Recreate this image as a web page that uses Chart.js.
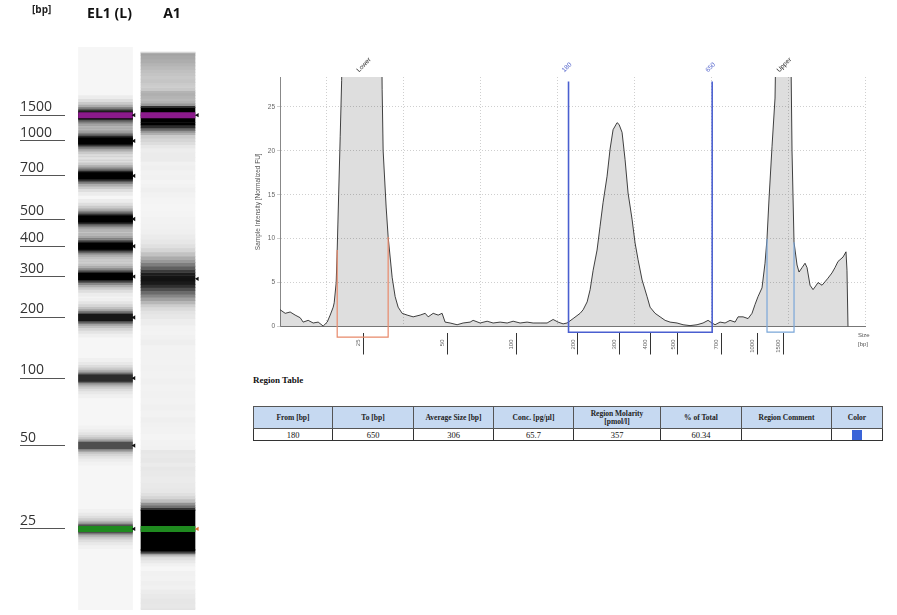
<!DOCTYPE html>
<html>
<head>
<meta charset="utf-8">
<script src="https://cdn.jsdelivr.net/npm/chart.js@4.4.0/dist/chart.umd.min.js"></script>
<style>
  body { margin: 0; background: #fff; width: 897px; height: 615px; position: relative; overflow: hidden; font-family: "Open Sans", sans-serif; }
  #gelWrap { position: absolute; left: 0; top: 0; width: 215px; height: 615px; }
  #epgWrap { position: absolute; left: 250px; top: 40px; width: 625px; height: 330px; }
  #bpUnit { position: absolute; left: 32px; top: 2px; font-size: 10px; font-weight: bold; color: #222; }
  #sizeLbl { position: absolute; left: 858px; top: 331px; font: 6px "Liberation Sans", sans-serif; color: #555; line-height: 9px; }
  #regTitle { position: absolute; left: 253px; top: 375px; font: bold 9px "Liberation Serif", serif; color: #111; }
  #regTable { position: absolute; left: 253px; top: 406px; border-collapse: collapse; font-family: "Liberation Serif", serif; table-layout: fixed; }
  #regTable th { background: #c6d9f1; font-size: 7.5px; font-weight: bold; height: 21px; padding: 0 7px; border: 1px solid #555; color: #222; line-height: 8px; }
  #regTable td { font-size: 8.5px; height: 11px; padding: 0; border: 1px solid #333; text-align: center; color: #111; line-height: 10px; }
  #regTable { border: 1.5px solid #222; }
  .swatch { display: inline-block; width: 10px; height: 10px; background: #3a64d8; vertical-align: middle; }
</style>
</head>
<body>
<div id="gelWrap"><canvas id="gel"></canvas></div>
<div id="bpUnit">[bp]</div>
<div id="epgWrap"><canvas id="epg"></canvas></div>
<div id="sizeLbl">Size<br>[bp]</div>
<div id="regTitle">Region Table</div>
<table id="regTable"></table>
<script>
// ladder (bp) and where each band runs, in migration units
var laneNames = ['EL1 (L)', 'A1'];
var ladderBp = [25, 50, 100, 200, 300, 400, 500, 700, 1000, 1500];
var ladderPos = [14.8, 25.8, 34.7, 42.7, 48.1, 52.1, 55.7, 61.4, 66.0, 69.4];
var ladderDensity = [0.5, 0.4, 0.55, 0.7, 1, 1, 1, 1, 1, 1];

// sample A1 trace: migration position vs intensity [FU]
var migration = [
  4.03, 4.68, 5.32, 5.97, 6.62, 7.01, 7.66, 8.31, 8.96, 9.61,
  10.13, 10.52, 10.91, 11.04, 11.30, 11.43, 11.62, 11.82, 12.01, 12.21,
  17.14, 17.27, 17.40, 17.79, 18.05, 18.57, 18.96, 19.35, 19.87, 20.52,
  21.30, 22.21, 22.86, 23.25, 23.90, 24.55, 25.06, 25.45, 26.10, 27.01,
  27.79, 28.70, 29.09, 30.00, 30.91, 31.69, 32.60, 33.51, 34.29, 35.19,
  36.10, 36.88, 37.79, 38.70, 39.48, 40.13, 40.78, 41.30, 42.08, 42.99,
  43.38, 43.90, 44.29, 44.68, 45.19, 45.58, 45.97, 46.49, 46.88, 47.27,
  47.79, 48.05, 48.44, 48.83, 49.22, 49.74, 50.13, 50.52, 51.04, 51.69,
  52.08, 52.73, 53.38, 54.03, 54.68, 55.58, 56.36, 57.27, 58.18, 58.96,
  59.61, 60.13, 60.52, 61.17, 61.82, 62.47, 63.12, 63.51, 64.16, 64.81,
  65.32, 65.71, 66.10, 66.62, 67.01, 67.27, 67.53, 67.92, 68.31, 68.57,
  70.26, 70.52, 70.78, 71.17, 71.43, 71.82, 72.21, 72.47, 72.86, 73.25,
  73.51, 73.90, 74.42, 74.81, 75.19, 75.71, 76.10, 76.49, 77.14, 77.53,
  77.66, 77.79
];
var intensity = [
  1.9, 1.5, 1.65, 1.3, 1.0, 0.5, 0.7, 0.4, 0.5, 0.05,
  0.5, 1.3, 2.2, 2.7, 5.0, 8.7, 15, 21.6, 28, 40,
  40, 27, 20, 13.6, 10.2, 5.6, 3.4, 2.2, 1.5, 1.3,
  1.1, 1.3, 1.5, 1.1, 1.5, 1.3, 1.5, 0.5, 0.4, 0.2,
  0.4, 0.5, 0.7, 0.4, 0.6, 0.4, 0.5, 0.4, 0.6, 0.4,
  0.5, 0.4, 0.4, 0.4, 0.8, 0.5, 0.3, 0.4, 0.9, 1.5,
  1.9, 2.8, 4.2, 6.4, 8.7, 11.4, 14.1, 17.1, 20.2, 22.4,
  23.2, 23.0, 22.1, 19.0, 15.2, 12.2, 9.5, 7.6, 5.3, 3.4,
  2.2, 1.5, 1.1, 0.7, 0.5, 0.4, 0.2, 0.1, 0.2, 0.4,
  0.7, 0.4, 0.2, 0.5, 0.4, 0.7, 0.5, 1.1, 1.1, 0.9,
  1.5, 2.5, 3.4, 4.4, 7.2, 10, 14.5, 20.5, 26, 40,
  40, 20, 9.6, 7.0, 6.2, 6.7, 7.2, 6.7, 4.7, 4.2,
  4.5, 5.0, 4.7, 5.1, 5.5, 6.1, 6.7, 7.4, 7.9, 8.5,
  6.4, 0
];
var samplePeaks = [14.8, 47.8, 69.4];
var lowerMarkerRange = [11.43, 18.05];
var upperMarkerRange = [67.27, 70.78];
var regionFrom = 180;
var regionTo = 650;
var topLabels = ['Lower', String(regionFrom), String(regionTo), 'Upper'];

var tableHead = ['From [bp]', 'To [bp]', 'Average Size [bp]', 'Conc. [pg/\u00b5l]', 'Region Molarity [pmol/l]', '% of Total', 'Region Comment', 'Color'];
var tableRow = ['180', '650', '306', '65.7', '357', '60.34', '', ''];
var colWidths = [79, 81, 80, 80, 87, 81, 90, 51];

function bpToPos(bp) {
  for (var i = 0; i < ladderBp.length - 1; i++) {
    if (bp <= ladderBp[i + 1]) {
      var t = Math.log(bp / ladderBp[i]) / Math.log(ladderBp[i + 1] / ladderBp[i]);
      return ladderPos[i] + t * (ladderPos[i + 1] - ladderPos[i]);
    }
  }
  return ladderPos[ladderPos.length - 1];
}
function valueAt(pos) {
  for (var i = 0; i < migration.length - 1; i++) {
    if (pos <= migration[i + 1]) {
      var t = (pos - migration[i]) / (migration[i + 1] - migration[i]);
      return intensity[i] + t * (intensity[i + 1] - intensity[i]);
    }
  }
  return 0;
}

// ---------- virtual gel ----------
var gelMin = 4.1, gelMax = 78.4;
var a1Bars = [];
for (var i = 0; i < migration.length; i++) {
  var lo = i === 0 ? migration[0] : (migration[i - 1] + migration[i]) / 2;
  var hi = i === migration.length - 1 ? migration[i] : (migration[i] + migration[i + 1]) / 2;
  a1Bars.push({ x: 2, y: [lo, hi], v: intensity[i] });
}
function grayFor(v) {
  var g = Math.round(246 * (1 - Math.min(1, v / 25)));
  return 'rgb(' + g + ',' + g + ',' + g + ')';
}
// soft edges for the ladder bands, widest/faintest first
var halo = [
  { h: 2.6, a: 0.04 }, { h: 2.1, a: 0.06 }, { h: 1.7, a: 0.09 }, { h: 1.35, a: 0.14 },
  { h: 1.05, a: 0.22 }, { h: 0.8, a: 0.35 }, { h: 0.6, a: 0.55 }, { h: 0.42, a: 1 }
];
// listed bottom layer first; chart.js paints dataset 0 on top, so the list is reversed below
var gelSets = [
  { type: 'bar', data: [{ x: 1, y: [gelMin, gelMax] }], backgroundColor: '#f6f6f6' },
  { type: 'bar', data: a1Bars, backgroundColor: function(c) { return grayFor(c.raw ? c.raw.v : 0); } }
];
halo.forEach(function(l) {
  gelSets.push({
    type: 'bar',
    data: ladderPos.map(function(p, k) { return { x: 1, y: [p - l.h, p + l.h], d: ladderDensity[k] }; }),
    backgroundColor: function(c) { return 'rgba(0,0,0,' + (l.a * (c.raw ? c.raw.d : 1)) + ')'; }
  });
});
var upperP = ladderPos[ladderPos.length - 1], lowerP = ladderPos[0];
gelSets.push({ type: 'bar', data: [{ x: 1, y: [upperP - 0.35, upperP + 0.35] }, { x: 2, y: [upperP - 0.35, upperP + 0.35] }], backgroundColor: '#8b1a8b' });
gelSets.push({ type: 'bar', data: [{ x: 1, y: [lowerP - 0.35, lowerP + 0.35] }, { x: 2, y: [lowerP - 0.35, lowerP + 0.35] }], backgroundColor: '#1f8a1f' });
gelSets.push({ type: 'scatter', data: ladderPos.map(function(p) { return { x: 1.456, y: p }; }),
  pointStyle: 'triangle', rotation: -90, pointRadius: 2.5, backgroundColor: '#111', borderWidth: 0 });
gelSets.push({ type: 'scatter', data: samplePeaks.map(function(p) { return { x: 2.47, y: p }; }),
  pointStyle: 'triangle', rotation: -90, pointRadius: 2.5, borderWidth: 0,
  backgroundColor: samplePeaks.map(function(p) { return p === lowerP ? '#e07030' : '#111'; }) });
gelSets.reverse();

new Chart(document.getElementById('gel'), {
  type: 'bar',
  data: { datasets: gelSets },
  options: {
    responsive: true, maintainAspectRatio: false, animation: false, events: [],
    layout: { padding: { left: 20, right: 10, top: 0, bottom: 5 } },
    plugins: { legend: { display: false }, tooltip: { enabled: false } },
    datasets: { bar: { grouped: false, barThickness: 54, borderWidth: 0, borderSkipped: false } },
    scales: {
      x: {
        type: 'linear', position: 'top', min: 0.352, max: 2.592, offset: false,
        grid: { display: false, drawTicks: false, offset: false }, border: { display: false },
        afterBuildTicks: function(s) { s.ticks = [{ value: 1 }, { value: 2 }]; },
        afterFit: function(s) { s.height = 47; s.paddingLeft = 0; s.paddingRight = 0; },
        ticks: { callback: function(v, i) { return laneNames[i]; }, padding: 25, labelOffset: 4,
          color: '#111', font: { family: 'Open Sans', size: 14, weight: 'bold' } }
      },
      y: {
        type: 'linear', min: gelMin, max: gelMax,
        afterBuildTicks: function(s) { s.ticks = ladderPos.map(function(v) { return { value: v }; }); },
        afterFit: function(s) { s.width = 45; s.paddingTop = 0; s.paddingBottom = 0; },
        ticks: { callback: function(v, i) { return String(ladderBp[i]); }, autoSkip: false,
          crossAlign: 'far', labelOffset: -8, padding: 0, color: '#333',
          font: { family: 'Open Sans', size: 14 } },
        grid: { drawOnChartArea: false, drawTicks: true, tickLength: 45, color: '#555', lineWidth: 1 },
        border: { display: false }
      }
    }
  }
});

// ---------- electropherogram ----------
var regA = bpToPos(regionFrom), regB = bpToPos(regionTo);
var regionTop = 27.9;
function boxPoints(r, bottom) {
  return [ { x: r[0], y: valueAt(r[0]) }, { x: r[0], y: bottom }, { x: r[1], y: bottom }, { x: r[1], y: valueAt(r[1]) } ];
}
var epgSets = [
  { data: [ { x: regA, y: regionTop }, { x: regA, y: -0.65 }, { x: regB, y: -0.65 }, { x: regB, y: regionTop } ],
    borderColor: '#4a5fd0', borderWidth: 1.6, pointRadius: 0, fill: false, clip: false },
  { data: boxPoints(lowerMarkerRange, -1.2), borderColor: '#e8896a', borderWidth: 1.2, pointRadius: 0, fill: false, clip: false },
  { data: boxPoints(upperMarkerRange, -0.65), borderColor: '#7aa6d8', borderWidth: 1.2, pointRadius: 0, fill: false, clip: false },
  { data: migration.map(function(x, k) { return { x: x, y: intensity[k] }; }),
    borderColor: '#111', borderWidth: 0.8, backgroundColor: 'rgba(0,0,0,0.13)', fill: 'origin',
    pointRadius: 0, tension: 0 }
];
var topPos = [ladderPos[0], regA, regB, ladderPos[ladderPos.length - 1]];
var smallFont = { family: 'Liberation Sans', size: 6.5 };

new Chart(document.getElementById('epg'), {
  type: 'line',
  data: { datasets: epgSets },
  options: {
    responsive: true, maintainAspectRatio: false, animation: false, events: [],
    layout: { padding: { left: 0, right: 10, top: 0, bottom: 0 } },
    plugins: { legend: { display: false }, tooltip: { enabled: false } },
    scales: {
      x: {
        type: 'linear', position: 'bottom', min: 4, max: 80,
        ticks: { display: false, stepSize: 10, includeBounds: false },
        grid: { color: '#cfcfcf', drawTicks: false },
        border: { display: true, color: '#777', dash: [1, 2] },
        afterFit: function(s) { s.height = 6; s.paddingLeft = 0; s.paddingRight = 0; }
      },
      x2: {
        type: 'linear', position: 'bottom', min: 4, max: 80,
        afterBuildTicks: function(s) { s.ticks = ladderPos.map(function(v) { return { value: v }; }); },
        afterFit: function(s) { s.height = 37.5; s.paddingLeft = 0; s.paddingRight = 0; },
        ticks: { callback: function(v, i) { return String(ladderBp[i]); }, autoSkip: false,
          minRotation: 90, maxRotation: 90, labelOffset: -5, padding: -15, color: '#666', font: { family: 'Liberation Sans', size: 6 } },
        grid: { drawOnChartArea: false, drawTicks: true, tickLength: 22, color: '#333' },
        border: { display: false }
      },
      x3: {
        type: 'linear', position: 'top', min: 4, max: 80,
        afterBuildTicks: function(s) { s.ticks = topPos.map(function(v) { return { value: v }; }); },
        afterFit: function(s) { s.height = 37; s.paddingLeft = 0; s.paddingRight = 0; },
        ticks: { callback: function(v, i) { return topLabels[i]; }, autoSkip: false,
          minRotation: 45, maxRotation: 45, padding: 3, font: smallFont,
          color: function(c) { return (c.index === 1 || c.index === 2) ? '#5566cc' : '#222'; } },
        grid: { display: false, drawTicks: false },
        border: { display: false }
      },
      y: {
        type: 'linear', min: 0, max: 28.4,
        ticks: { stepSize: 5, includeBounds: false, color: '#666', padding: 2, font: smallFont },
        grid: { color: '#cfcfcf', tickLength: 3 },
        border: { display: true, color: '#888', dash: [1, 2] },
        title: { display: true, text: 'Sample Intensity [Normalized FU]', color: '#555', font: smallFont, padding: { top: 4, bottom: 0 } },
        afterFit: function(s) { s.width = 30; s.paddingTop = 0; s.paddingBottom = 0; }
      }
    }
  }
});

// ---------- region table ----------
var tbl = document.getElementById('regTable');
var html = '<colgroup>' + colWidths.map(function(w) { return '<col style="width:' + w + 'px">'; }).join('') + '</colgroup>';
html += '<tr>' + tableHead.map(function(h) { return '<th>' + h + '</th>'; }).join('') + '</tr>';
html += '<tr>' + tableRow.map(function(v, k) {
  return '<td>' + (k === tableRow.length - 1 ? '<span class="swatch"></span>' : v) + '</td>';
}).join('') + '</tr>';
tbl.innerHTML = html;
</script>
</body>
</html>
